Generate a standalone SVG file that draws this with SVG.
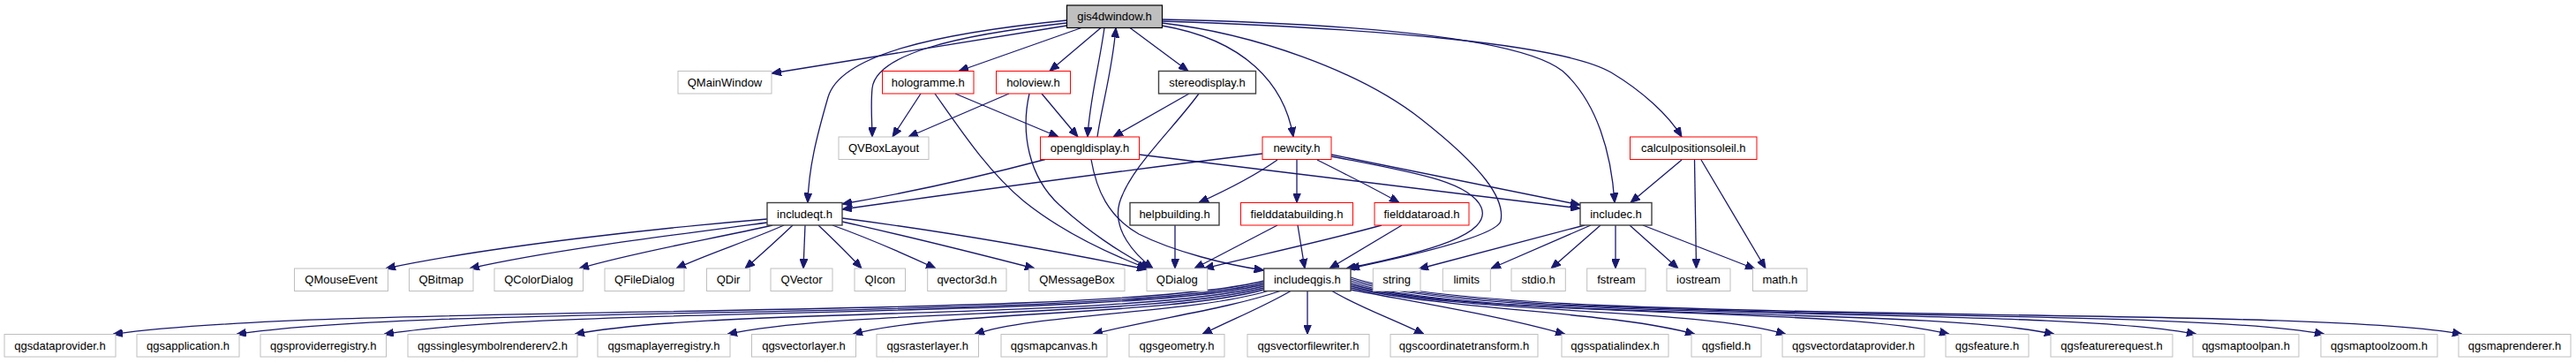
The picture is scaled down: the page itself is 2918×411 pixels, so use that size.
<svg xmlns="http://www.w3.org/2000/svg" width="2918" height="411" viewBox="0 0 2918 411">
<style>
.n rect{fill:#ffffff;stroke-width:1}
.g rect{stroke:#bfbfbf}
.b rect{stroke:#404040;stroke-width:1.4}
.r rect{stroke:#ff0000}
.root rect{fill:#bfbfbf;stroke:#000000;stroke-width:1.2}
text{font-family:"Liberation Sans",Arial,sans-serif;font-size:13px;text-anchor:middle;fill:#000000}
#edges path{fill:none;stroke:#191970;stroke-width:1.3;marker-end:url(#ah)}
</style>
<defs>
<marker id="ah" markerWidth="11" markerHeight="9" refX="11" refY="4.5" orient="auto" markerUnits="userSpaceOnUse">
<path d="M0,0 L11,4.5 L0,9 z" fill="#191970" stroke="#191970" stroke-width="1"/>
</marker>
</defs>
<rect x="0" y="0" width="2918" height="411" fill="#ffffff"/>
<g id="edges">
<path d="M1208.5,29 L874,83"/>
<path d="M1225,31.5 L1086,80.5"/>
<path d="M1247,31.5 L1189,80.5"/>
<path d="M1280,31.5 L1346,80.5"/>
<path d="M1251,31.5 C1245,75 1234,115 1232,155"/>
<path d="M1243,155 C1248,120 1260,80 1264,31.5"/>
<path d="M1208.5,26 C1080,40 992,62 988,100 C986,120 988,140 988,155"/>
<path d="M1208.5,23 C1060,38 952,62 938,110 C925,155 916,190 915,229.5"/>
<path d="M1316,29 C1410,45 1455,95 1465,155"/>
<path d="M1316,26 C1420,38 1540,80 1610,135 C1680,190 1705,225 1700,250 C1697,265 1620,285 1529,304"/>
<path d="M1508,177 C1600,195 1665,205 1678,235 C1690,265 1620,285 1525,304"/>
<path d="M1316,22 C1580,28 1740,48 1775,85 C1808,118 1825,170 1829,229.5"/>
<path d="M1316,24 C1560,32 1770,50 1825,82 C1860,103 1890,130 1905,155"/>
<path d="M1043,106 L1011,155"/>
<path d="M1143,106 L1029,155"/>
<path d="M1082,106 L1199,155"/>
<path d="M1180,106 L1221,155"/>
<path d="M1347,106 L1261,155"/>
<path d="M1059,106 C1090,150 1120,195 1160,228 C1200,260 1250,285 1300,304"/>
<path d="M1166,106 C1156,150 1165,200 1200,232 C1230,260 1270,287 1303,304"/>
<path d="M1358,106 C1330,145 1280,190 1268,230 C1260,260 1285,288 1306,304"/>
<path d="M1236,180.5 C1242,215 1255,245 1290,265 C1330,285 1390,300 1431.7,306"/>
<path d="M1184,180.5 C1110,200 1030,218 954,231"/>
<path d="M1430,174 C1280,192 1110,215 954,237"/>
<path d="M1290.3,175 L1790,236"/>
<path d="M1508,175 L1790,232"/>
<path d="M1447,181 C1420,200 1390,215 1358,229.5"/>
<path d="M1469,181 L1469,229.5"/>
<path d="M1492,181 C1530,200 1560,215 1585,229.5"/>
<path d="M1905,181 L1847,229.5"/>
<path d="M1919.5,181 L1921.5,304"/>
<path d="M1927,181 L2000,304"/>
<path d="M1795,255 L1607,304.5"/>
<path d="M1802,255 L1689,304"/>
<path d="M1813,255 L1757,304"/>
<path d="M1830,255 L1830,304"/>
<path d="M1846,255 L1901,304"/>
<path d="M1861,255 L1988,304.5"/>
<path d="M1331,255 L1331,304"/>
<path d="M1447,255 L1353,304"/>
<path d="M1470,255 L1478,304"/>
<path d="M1565,255 C1500,273 1420,290 1364,304"/>
<path d="M1588,255 L1506,304"/>
<path d="M869,248 C750,258 560,278 437,304"/>
<path d="M869,252 C780,264 630,282 532,304"/>
<path d="M875,255 C810,270 720,285 656,304"/>
<path d="M888,255 C850,272 800,288 766,304"/>
<path d="M898,255 C880,272 860,290 844,304"/>
<path d="M912,255 L910,304"/>
<path d="M927,255 C945,272 965,292 976,304"/>
<path d="M943,255 C990,272 1030,290 1060,304"/>
<path d="M954,251 C1030,268 1110,288 1172,304"/>
<path d="M954,247 C1070,262 1200,285 1299,305"/>
<path d="M1431.7,318 C1250,364 380,342 128,378.5"/>
<path d="M1431.7,320 C1260,364 480,344 268,378.5"/>
<path d="M1431.7,322 C1270,362 630,346 435,378.5"/>
<path d="M1431.7,324 C1280,362 800,348 651,378.5"/>
<path d="M1431.7,326 C1300,360 950,350 824,378.5"/>
<path d="M1431.7,328 C1320,358 1060,352 966,378.5"/>
<path d="M1436,329.5 C1350,355 1170,355 1104,378.5"/>
<path d="M1450,329.5 C1390,350 1300,362 1238,378.5"/>
<path d="M1462,329.5 C1430,348 1395,362 1362,378.5"/>
<path d="M1481,329.5 L1481,378.5"/>
<path d="M1509,329.5 C1540,348 1580,362 1613,378.5"/>
<path d="M1530,328 C1620,345 1700,358 1773,378.5"/>
<path d="M1530,326 C1650,352 1830,353 1920,378.5"/>
<path d="M1530,324 C1660,356 1920,348 2023,378.5"/>
<path d="M1530,322 C1680,362 2080,346 2208,378.5"/>
<path d="M1530,320 C1690,366 2180,346 2327,378.5"/>
<path d="M1530,318 C1700,368 2320,345 2488,378.5"/>
<path d="M1530,316 C1700,370 2450,344 2633,378.5"/>
<path d="M1530,314 C1700,372 2600,343 2789,378.5"/>
</g>
<g id="gis4dwindow" class="n root"><rect x="1208.5" y="6" width="108" height="25.5"/><text x="1262.5" y="23">gis4dwindow.h</text></g>
<g id="QMainWindow" class="n g"><rect x="768" y="80.5" width="106" height="25.5"/><text x="821" y="97.5">QMainWindow</text></g>
<g id="hologramme" class="n r"><rect x="999.5" y="80.5" width="103.5" height="25.5"/><text x="1051.25" y="97.5">hologramme.h</text></g>
<g id="holoview" class="n r"><rect x="1128.5" y="80.5" width="84" height="25.5"/><text x="1170.5" y="97.5">holoview.h</text></g>
<g id="stereodisplay" class="n b"><rect x="1312.5" y="80.5" width="110" height="25.5"/><text x="1367.5" y="97.5">stereodisplay.h</text></g>
<g id="QVBoxLayout" class="n g"><rect x="950" y="155" width="102" height="25.5"/><text x="1001" y="172">QVBoxLayout</text></g>
<g id="opengldisplay" class="n r"><rect x="1178.5" y="155" width="112" height="25.5"/><text x="1234.5" y="172">opengldisplay.h</text></g>
<g id="newcity" class="n r"><rect x="1430" y="155" width="78" height="25.5"/><text x="1469" y="172">newcity.h</text></g>
<g id="calculpositionsoleil" class="n r"><rect x="1846.5" y="155" width="143.5" height="25.5"/><text x="1918.25" y="172">calculpositionsoleil.h</text></g>
<g id="includeqt" class="n b"><rect x="869" y="229.5" width="85" height="25.5"/><text x="911.5" y="246.5">includeqt.h</text></g>
<g id="helpbuilding" class="n b"><rect x="1280" y="229.5" width="101" height="25.5"/><text x="1330.5" y="246.5">helpbuilding.h</text></g>
<g id="fielddatabuilding" class="n r"><rect x="1405.5" y="229.5" width="127" height="25.5"/><text x="1469" y="246.5">fielddatabuilding.h</text></g>
<g id="fielddataroad" class="n r"><rect x="1557" y="229.5" width="107" height="25.5"/><text x="1610.5" y="246.5">fielddataroad.h</text></g>
<g id="includec" class="n b"><rect x="1790" y="229.5" width="81" height="25.5"/><text x="1830.5" y="246.5">includec.h</text></g>
<g id="QMouseEvent" class="n g"><rect x="333.5" y="304" width="106" height="25.5"/><text x="386.5" y="321">QMouseEvent</text></g>
<g id="QBitmap" class="n g"><rect x="463.5" y="304" width="72.5" height="25.5"/><text x="499.75" y="321">QBitmap</text></g>
<g id="QColorDialog" class="n g"><rect x="560" y="304" width="100.5" height="25.5"/><text x="610.25" y="321">QColorDialog</text></g>
<g id="QFileDialog" class="n g"><rect x="685" y="304" width="90" height="25.5"/><text x="730" y="321">QFileDialog</text></g>
<g id="QDir" class="n g"><rect x="800.5" y="304" width="49" height="25.5"/><text x="825" y="321">QDir</text></g>
<g id="QVector" class="n g"><rect x="873" y="304" width="70" height="25.5"/><text x="908" y="321">QVector</text></g>
<g id="QIcon" class="n g"><rect x="968" y="304" width="57.5" height="25.5"/><text x="996.75" y="321">QIcon</text></g>
<g id="qvector3d" class="n g"><rect x="1050.7" y="304" width="89.3" height="25.5"/><text x="1095.35" y="321">qvector3d.h</text></g>
<g id="QMessageBox" class="n g"><rect x="1165.7" y="304" width="108.3" height="25.5"/><text x="1219.85" y="321">QMessageBox</text></g>
<g id="QDialog" class="n g"><rect x="1299" y="304" width="68.7" height="25.5"/><text x="1333.35" y="321">QDialog</text></g>
<g id="includeqgis" class="n b"><rect x="1431.7" y="304" width="98.3" height="25.5"/><text x="1480.85" y="321">includeqgis.h</text></g>
<g id="string" class="n g"><rect x="1555.3" y="304" width="53.7" height="25.5"/><text x="1582.15" y="321">string</text></g>
<g id="limits" class="n g"><rect x="1634.3" y="304" width="54" height="25.5"/><text x="1661.3" y="321">limits</text></g>
<g id="stdio" class="n g"><rect x="1712" y="304" width="61.3" height="25.5"/><text x="1742.65" y="321">stdio.h</text></g>
<g id="fstream" class="n g"><rect x="1797.7" y="304" width="66.3" height="25.5"/><text x="1830.85" y="321">fstream</text></g>
<g id="iostream" class="n g"><rect x="1888" y="304" width="72" height="25.5"/><text x="1924" y="321">iostream</text></g>
<g id="math" class="n g"><rect x="1985.5" y="304" width="61.5" height="25.5"/><text x="2016.25" y="321">math.h</text></g>
<g id="qgsdataprovider" class="n g"><rect x="5" y="378.5" width="126" height="25.5"/><text x="68" y="395.5">qgsdataprovider.h</text></g>
<g id="qgsapplication" class="n g"><rect x="155" y="378.5" width="116" height="25.5"/><text x="213" y="395.5">qgsapplication.h</text></g>
<g id="qgsproviderregistry" class="n g"><rect x="295" y="378.5" width="142.5" height="25.5"/><text x="366.25" y="395.5">qgsproviderregistry.h</text></g>
<g id="qgssinglesymbolrendererv2" class="n g"><rect x="462" y="378.5" width="192" height="25.5"/><text x="558" y="395.5">qgssinglesymbolrendererv2.h</text></g>
<g id="qgsmaplayerregistry" class="n g"><rect x="677" y="378.5" width="150" height="25.5"/><text x="752" y="395.5">qgsmaplayerregistry.h</text></g>
<g id="qgsvectorlayer" class="n g"><rect x="851.5" y="378.5" width="118" height="25.5"/><text x="910.5" y="395.5">qgsvectorlayer.h</text></g>
<g id="qgsrasterlayer" class="n g"><rect x="993" y="378.5" width="115.5" height="25.5"/><text x="1050.75" y="395.5">qgsrasterlayer.h</text></g>
<g id="qgsmapcanvas" class="n g"><rect x="1134" y="378.5" width="120" height="25.5"/><text x="1194" y="395.5">qgsmapcanvas.h</text></g>
<g id="qgsgeometry" class="n g"><rect x="1279" y="378.5" width="108" height="25.5"/><text x="1333" y="395.5">qgsgeometry.h</text></g>
<g id="qgsvectorfilewriter" class="n g"><rect x="1413" y="378.5" width="138" height="25.5"/><text x="1482" y="395.5">qgsvectorfilewriter.h</text></g>
<g id="qgscoordinatetransform" class="n g"><rect x="1575" y="378.5" width="167" height="25.5"/><text x="1658.5" y="395.5">qgscoordinatetransform.h</text></g>
<g id="qgsspatialindex" class="n g"><rect x="1769" y="378.5" width="121" height="25.5"/><text x="1829.5" y="395.5">qgsspatialindex.h</text></g>
<g id="qgsfield" class="n g"><rect x="1916" y="378.5" width="79" height="25.5"/><text x="1955.5" y="395.5">qgsfield.h</text></g>
<g id="qgsvectordataprovider" class="n g"><rect x="2019" y="378.5" width="161" height="25.5"/><text x="2099.5" y="395.5">qgsvectordataprovider.h</text></g>
<g id="qgsfeature" class="n g"><rect x="2204" y="378.5" width="94" height="25.5"/><text x="2251" y="395.5">qgsfeature.h</text></g>
<g id="qgsfeaturerequest" class="n g"><rect x="2323" y="378.5" width="138" height="25.5"/><text x="2392" y="395.5">qgsfeaturerequest.h</text></g>
<g id="qgsmaptoolpan" class="n g"><rect x="2484" y="378.5" width="120" height="25.5"/><text x="2544" y="395.5">qgsmaptoolpan.h</text></g>
<g id="qgsmaptoolzoom" class="n g"><rect x="2629" y="378.5" width="132" height="25.5"/><text x="2695" y="395.5">qgsmaptoolzoom.h</text></g>
<g id="qgsmaprenderer" class="n g"><rect x="2785" y="378.5" width="127" height="25.5"/><text x="2848.5" y="395.5">qgsmaprenderer.h</text></g>
</svg>
